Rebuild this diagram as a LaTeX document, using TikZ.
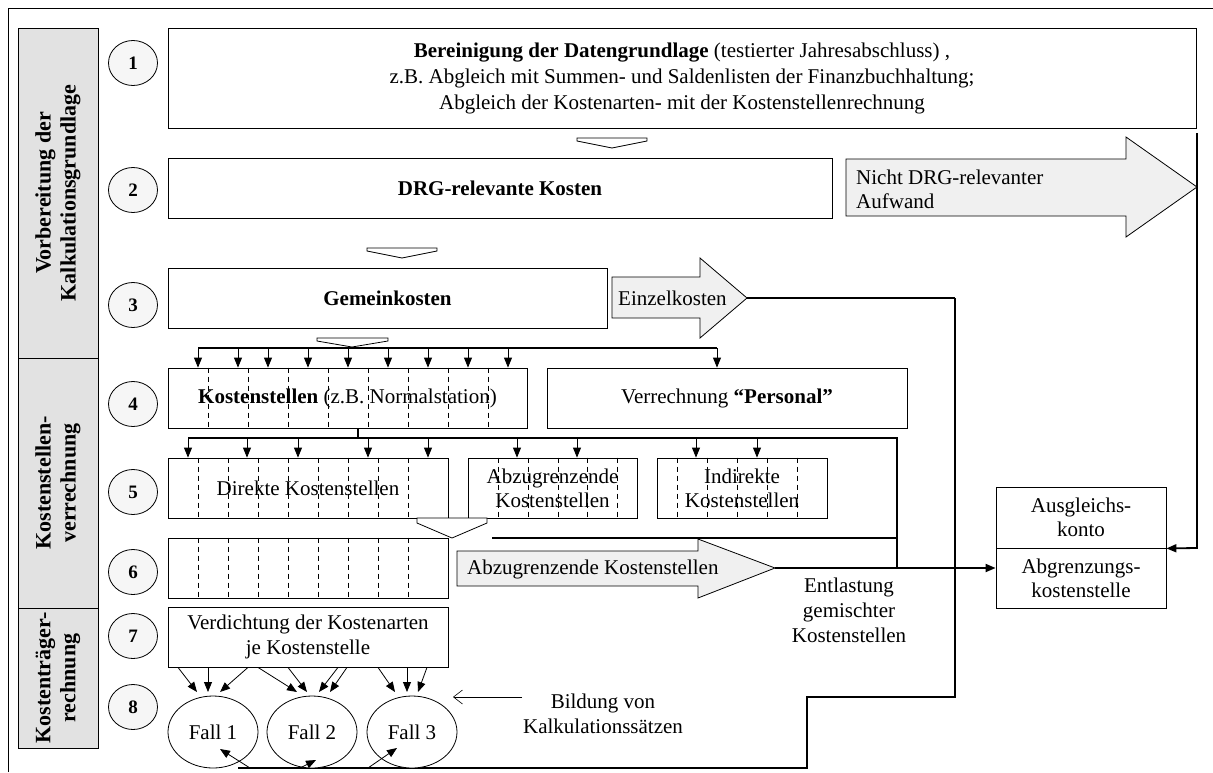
\documentclass[tikz,border=0pt]{standalone}
\usepackage{fontspec}
\setmainfont{Liberation Serif}
\usetikzlibrary{arrows.meta,shapes.geometric}
\definecolor{sidegray}{RGB}{226,226,226}
\definecolor{arrgray}{RGB}{240,240,240}
\definecolor{circfill}{RGB}{246,246,246}
\begin{document}
\begin{tikzpicture}[x=1pt,y=-1pt,
  every node/.style={font=\fontsize{21}{26}\selectfont, inner sep=0pt},
  box/.style={draw, line width=0.8pt, fill=white, align=center, minimum height=60},
  sidebox/.style={draw, line width=0.8pt, fill=sidegray, minimum width=80},
  sidetxt/.style={rotate=90, align=center, font=\bfseries\fontsize{22}{25}\selectfont},
  num/.style={draw, ellipse, fill=circfill, line width=0.8pt, minimum width=49, minimum height=45, font=\bfseries\fontsize{19}{22}\selectfont},
  fall/.style={draw, ellipse, fill=white, line width=0.8pt, minimum width=90, minimum height=72},
  dsh/.style={line width=0.7pt, dash pattern=on 5pt off 4pt},
  chev/.style={draw, fill=white, line width=0.8pt},
  bigarr/.style={draw, fill=arrgray, line width=0.8pt},
  bus/.style={line width=1.8pt},
  arr/.style={line width=0.8pt, -{Triangle[length=10pt,width=8pt]}},
  busarr/.style={line width=1.8pt, -{Triangle[length=10pt,width=8pt]}}
]
\useasboundingbox (0,0) rectangle (1213,772);
% outer frame
\draw[line width=0.8pt] (8.5,772) -- (8.5,8.5) -- (1213,8.5);

% side boxes
\node[sidebox, minimum height=330] (s1) at (58,193) {};
\node[sidetxt] (s1t) at (s1.center) {Vorbereitung der\\Kalkulationsgrundlage};
\node[sidebox, minimum height=250] (s2) at (58,483) {};
\node[sidetxt] (s2t) at (s2.center) {Kostenstellen-\\verrechnung};
\node[sidebox, minimum height=140] (s3) at (58,678) {};
\node[sidetxt] (s3t) at (s3.center) {Kostenträger-\\rechnung};

% number circles
\node[num] (n1) at (133,63) {1};
\node[num] (n2) at (133,190) {2};
\node[num] (n3) at (133,305) {3};
\node[num] (n4) at (133,404) {4};
\node[num] (n5) at (133,492) {5};
\node[num] (n6) at (133,572) {6};
\node[num] (n7) at (133,636) {7};
\node[num] (n8) at (133,707) {8};

% connector lines (drawn beneath boxes)
\coordinate (etip) at (747,298);
\coordinate (atip) at (775,568);
\draw[line width=1.1pt] (etip) -- (955,298);
\draw[bus] (955,298) -- (955,697) -- (807,697) -- (807,768) -- (238,768);
\draw[bus] (188,438) -- (897,438) -- (897,568);
\draw[bus] (492,538) -- (897,538);
\draw[bus] (198,348) -- (717,348);

% main boxes
\node[box, minimum width=1028, minimum height=100] (b1) at (682,78)
  {\textbf{Bereinigung der Datengrundlage} (testierter Jahresabschluss) ,\\
   z.B. Abgleich mit Summen- und Saldenlisten der Finanzbuchhaltung;\\
   Abgleich der Kostenarten- mit der Kostenstellenrechnung};
\node[box, minimum width=664] (b2) at (500,188) {\textbf{DRG-relevante Kosten}};
\node[box, minimum width=439] (b3) at (387.5,298) {\textbf{Gemeinkosten}};
\node[box, minimum width=359] (b4) at (347.5,398) {\textbf{Kostenstellen} (z.B. Normalstation)};
\node[box, minimum width=360] (pers) at (727,398) {Verrechnung \textbf{“Personal”}};
\node[box, minimum width=280] (b5a) at (308,488) {Direkte Kostenstellen};
\node[box, minimum width=169, font=\fontsize{21}{24}\selectfont] (b5b) at (552.5,488) {Abzugrenzende\\Kostenstellen};
\node[box, minimum width=170, font=\fontsize{21}{24}\selectfont] (b5c) at (742,488) {Indirekte\\Kostenstellen};
\node[box, minimum width=280] (b6) at (308,568) {};
\node[box, minimum width=280, font=\fontsize{21}{25}\selectfont] (b7) at (308,637) {Verdichtung der Kostenarten\\je Kostenstelle};
\node[box, minimum width=170, minimum height=61, font=\fontsize{21}{24}\selectfont] (aus) at (1081,517.5) {Ausgleichs-\\konto};
\node[box, minimum width=170, font=\fontsize{21}{24}\selectfont] (abg) at (1081,578) {Abgrenzungs-\\kostenstelle};

% dashed subdivisions
\foreach \x in {208,248,...,488} \draw[dsh] (\x,0 |- b4.north) -- (\x,0 |- b4.south);
\foreach \x in {198,228,...,408} {
  \draw[dsh] (\x,0 |- b5a.north) -- (\x,0 |- b5a.south);
  \draw[dsh] (\x,0 |- b6.north) -- (\x,0 |- b6.south);
}
\foreach \x in {498,528,558,587,617} \draw[dsh] (\x,0 |- b5b.north) -- (\x,0 |- b5b.south);
\foreach \x in {677,707,737,767,797} \draw[dsh] (\x,0 |- b5c.north) -- (\x,0 |- b5c.south);

% chevrons
\draw[chev] (577,138) -- (647,138) -- (647,141) -- (612,148) -- (577,141) -- cycle;
\draw[chev] (367,248) -- (437,248) -- (437,251) -- (402,258) -- (367,251) -- cycle;
\draw[chev] (317,338) -- (388,338) -- (388,341) -- (352,347) -- (317,341) -- cycle;
\draw[chev] (417,518) -- (487,518) -- (487,523) -- (452,538) -- (417,523) -- cycle;

% big arrows
\draw[bigarr] (846,159) -- (1126,159) -- (1126,137) -- (1197,187) -- (1126,237) -- (1126,216) -- (846,216) -- cycle;
\node[anchor=west, align=left, font=\fontsize{21}{24}\selectfont] (ndrg) at (856,189) {Nicht DRG-relevanter\\Aufwand};
\draw[bigarr] (612,277) -- (700,277) -- (700,258) -- (etip) -- (700,338) -- (700,318) -- (612,318) -- cycle;
\node[anchor=west] (ek) at (618,298) {Einzelkosten};
\draw[bigarr] (457,551) -- (698,551) -- (698,539) -- (atip) -- (698,598) -- (698,586) -- (457,586) -- cycle;
\node[anchor=west] (ak) at (467,569) {Abzugrenzende Kostenstellen};

% bus arrows
\foreach \x in {198,238,268,308,348,388,428,468,508} \draw[arr] (\x,348) -- (\x,0 |- b4.north);
\draw[arr] (717,348) -- (717,0 |- pers.north);
\draw[bus] (358,0 |- b4.south) -- (358,438);
\foreach \x in {188,247,298,368,428} \draw[arr] (\x,438) -- (\x,0 |- b5a.north);
\foreach \x in {517,577} \draw[arr] (\x,438) -- (\x,0 |- b5b.north);
\foreach \x in {696,757} \draw[arr] (\x,438) -- (\x,0 |- b5c.north);

% to Abgrenzungskostenstelle and Ausgleichskonto
\draw[busarr] (atip) -- (abg.west |- atip);
\draw[busarr] (1197,133) -- (1197,548) -- (aus.south east);

\node[align=center, font=\fontsize{21}{25}\selectfont] (entl) at (849,610) {Entlastung\\gemischter\\Kostenstellen};

% Fall ellipses
\node[fall] (f1) at (213,732) {Fall 1};
\node[fall] (f2) at (312,732) {Fall 2};
\node[fall] (f3) at (412,732) {Fall 3};

% arrows from Verdichtung to cases
\draw[arr] (178,0 |- b7.south) -- (197,692);
\draw[arr] (208,0 |- b7.south) -- (208,692);
\draw[arr] (248,0 |- b7.south) -- (220,692);
\draw[arr] (258,0 |- b7.south) -- (297,692);
\draw[arr] (288,0 |- b7.south) -- (307,692);
\draw[arr] (338,0 |- b7.south) -- (319,692);
\draw[arr] (347,0 |- b7.south) -- (330,692);
\draw[arr] (378,0 |- b7.south) -- (395,692);
\draw[arr] (407,0 |- b7.south) -- (407,692);
\draw[arr] (427,0 |- b7.south) -- (418,692);

% return arrows into cases
\draw[arr] (250,768) -- (220,749);
\draw[arr] (300,768) -- (316,760);
\draw[arr] (368,768) -- (397,748);

% Bildung von Kalkulationssaetzen
\node[align=center, font=\fontsize{21}{25}\selectfont] (bild) at (603,714) {Bildung von\\Kalkulationssätzen};
\draw[line width=0.6pt, -{Straight Barb[length=9pt,width=14pt]}] (522,697) -- (453,697);
\end{tikzpicture}
\end{document}
